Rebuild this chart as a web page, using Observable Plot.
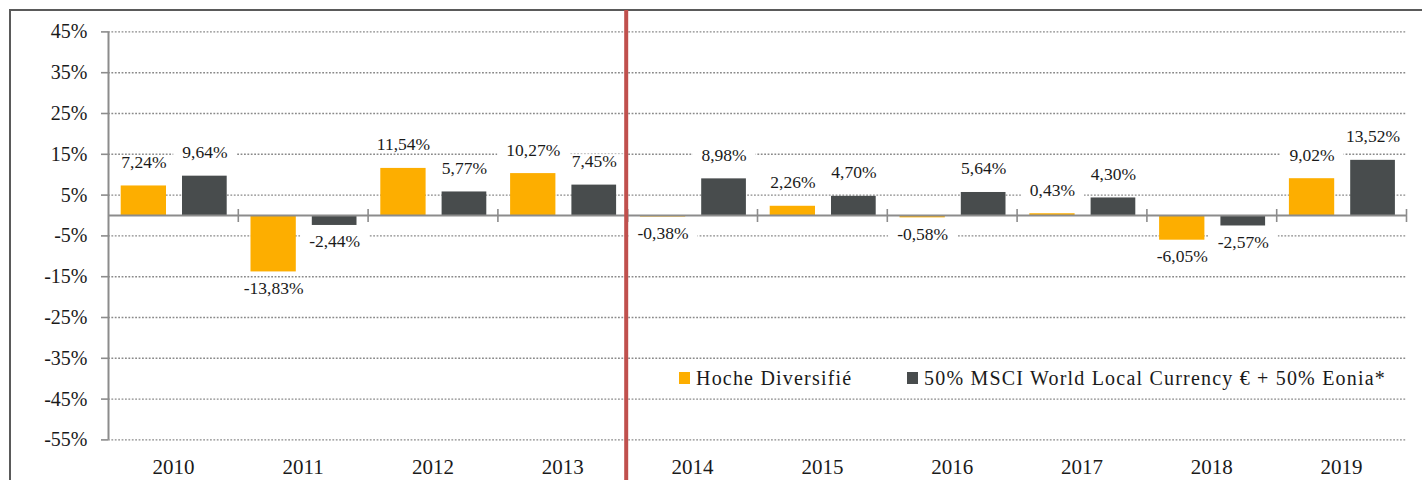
<!DOCTYPE html>
<html><head><meta charset="utf-8">
<script src="https://cdn.jsdelivr.net/npm/d3@7"></script>
<script src="https://cdn.jsdelivr.net/npm/@observablehq/plot@0.6"></script>
<style>
body{margin:0;background:#fff;}
#wrap{position:relative;width:1422px;height:480px;overflow:hidden;font-family:"Liberation Serif",serif;color:#1a1a1a;}
#border{position:absolute;left:9px;top:9px;width:1500px;height:600px;border-top:2px solid #5a5a5a;border-left:2px solid #5a5a5a;}
#chart{position:absolute;left:0;top:0;}
.item{position:absolute;top:366px;white-space:nowrap;display:flex;align-items:center;font-size:20px;letter-spacing:1.2px;line-height:24px;}
.sw{display:inline-block;width:11px;height:12px;margin-right:6px;}
</style></head><body>
<div id="wrap"><div id="border"></div><div id="chart"></div><div id="legend"></div></div>
<script>
// ---- data ----
const years = ["2010","2011","2012","2013","2014","2015","2016","2017","2018","2019"];
const hoche = [7.24, -13.83, 11.54, 10.27, -0.38, 2.26, -0.58, 0.43, -6.05, 9.02];
const bench = [9.64, -2.44, 5.77, 7.45, 8.98, 4.70, 5.64, 4.30, -2.57, 13.52];
const yTicks = [-55, -45, -35, -25, -15, -5, 5, 15, 25, 35, 45];
const seriesNames = ["Hoche Diversifié", "50% MSCI World Local Currency € + 50% Eonia*"];
const seriesColors = ["#FDAE00", "#484C4D"];
const splitYear = "2014";

// ---- layout ----
const W = 1422, H = 480, mL = 108, mR = 16, mT = 31.4, mB = 40.6;
const bw = (W - mL - mR) / years.length;
const ins = [{l: 12.7, r: 71.8}, {l: 74, r: 11.1}];
const centerDx = ins.map(o => (o.l + (bw - o.r)) / 2 - bw / 2);

const fmt = v => v.toFixed(2).replace(".", ",") + "%";
const series = [hoche, bench].map((vals, s) => years.map((y, i) => ({year: y, value: vals[i], s})));

const marks = [
  // dotted gridlines
  Plot.ruleY(yTicks, {y: d => d, stroke: "#8a8a8a", strokeWidth: 1.4, strokeDasharray: "1.8 1.6"}),
  // y tick marks
  Plot.ruleY(yTicks, {y: d => d, stroke: "#8c8c8c", strokeWidth: 1.6, insetLeft: -7, insetRight: W - mL - mR}),
  // y axis line
  Plot.ruleX([years[0]], {x: d => d, dx: -bw / 2, stroke: "#8c8c8c", strokeWidth: 2}),
  // bars
  ...series.map((data, s) => Plot.barY(data, {
    x: "year", y: "value", fill: seriesColors[s], insetLeft: ins[s].l, insetRight: ins[s].r
  })),
  // zero line
  Plot.ruleY([0], {y: d => d, stroke: "#8c8c8c", strokeWidth: 2}),
  // category boundary ticks on the zero line
  Plot.ruleX(years, {x: d => d, y1: 0, y2: 0, dx: bw / 2, insetTop: -6, insetBottom: -7, stroke: "#8c8c8c", strokeWidth: 1.6}),
  // value labels
  ...series.flatMap((data, s) => [
    Plot.text(data.filter(d => d.value >= 0), {
      x: "year", y: "value", text: d => fmt(d.value), dx: centerDx[s], dy: -18,
      lineAnchor: "bottom", fontSize: 17.5, fill: "#1a1a1a", ariaDescription: "value-labels"
    }),
    Plot.text(data.filter(d => d.value < 0), {
      x: "year", y: "value", text: d => fmt(d.value), dx: centerDx[s], dy: 22,
      lineAnchor: "bottom", fontSize: 17.5, fill: "#1a1a1a", ariaDescription: "value-labels"
    })
  ]),
  // y labels
  Plot.text(yTicks, {y: d => d, text: d => `${d}%`, frameAnchor: "left", textAnchor: "end", dx: -21, fontSize: 20, fill: "#1a1a1a"}),
  // x labels
  Plot.text(years, {x: d => d, text: d => d, frameAnchor: "bottom", lineAnchor: "bottom", dy: 33.6, fontSize: 21, fill: "#1a1a1a"}),
  // red separator
  Plot.ruleX([splitYear], {x: d => d, dx: -bw / 2 - 1.5, stroke: "#C0504D", strokeWidth: 4, insetTop: -(mT - 10), insetBottom: -mB})
];

const chart = Plot.plot({
  width: W, height: H,
  marginLeft: mL, marginRight: mR, marginTop: mT, marginBottom: mB,
  x: {type: "band", domain: years, padding: 0, round: false, axis: null},
  y: {domain: [-55, 45], axis: null},
  style: {fontFamily: "'Liberation Serif', serif", background: "transparent", overflow: "visible"},
  marks
});
document.getElementById("chart").append(chart);

// white boxes behind value labels (interrupt the gridlines)
chart.querySelectorAll('g[aria-description="value-labels"] text').forEach(t => {
  const b = t.getBBox();
  const r = document.createElementNS("http://www.w3.org/2000/svg", "rect");
  r.setAttribute("x", b.x - 9);
  r.setAttribute("y", b.y + 3);
  r.setAttribute("width", b.width + 18);
  r.setAttribute("height", Math.max(0, b.height - 5));
  r.setAttribute("fill", "white");
  const tr = t.getAttribute("transform");
  if (tr) r.setAttribute("transform", tr);
  t.parentNode.insertBefore(r, t);
});

// legend
const legendLefts = [679, 907];
const legend = document.getElementById("legend");
seriesNames.forEach((name, i) => {
  const it = document.createElement("div");
  it.className = "item";
  it.style.left = legendLefts[i] + "px";
  const sw = document.createElement("span");
  sw.className = "sw";
  sw.style.background = seriesColors[i];
  const tx = document.createElement("span");
  tx.textContent = name;
  it.append(sw, tx);
  legend.append(it);
});
</script>
</body></html>
